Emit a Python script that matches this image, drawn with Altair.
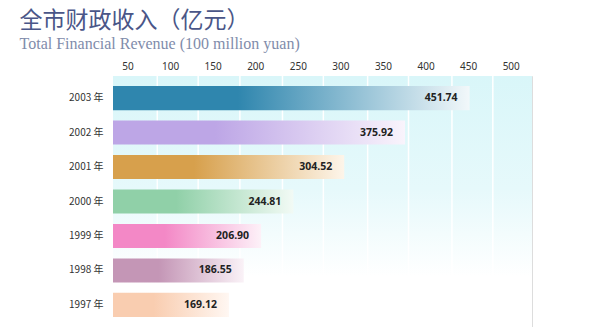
import altair as alt
import pandas as pd

years = ["2003 年", "2002 年", "2001 年", "2000 年", "1999 年", "1998 年", "1997 年"]
values = [451.74, 375.92, 304.52, 244.81, 206.90, 186.55, 169.12]
labels = ["451.74", "375.92", "304.52", "244.81", "206.90", "186.55", "169.12"]
tick_values = [50, 100, 150, 200, 250, 300, 350, 400, 450, 500]
grid_values = [85, 133, 182, 232, 280, 332, 380, 431, 479]
bar_colors = ["#2f86ae", "#bda6e6", "#d7a04c", "#90d0a8", "#f388c6", "#c496b6", "#f9cdb0"]
end_colors = ["#f2f8fa", "#f9f4fc", "#fdf5ea", "#f2faf5", "#fdf1f8", "#faf2f7", "#fff7f2"]

df = pd.DataFrame({"year": years, "value": values, "label": labels})
grid_df = pd.DataFrame({"g": grid_values})

DOMAIN = [33, 525]
W, H = 419, 251

x_scale = alt.Scale(domain=DOMAIN, zero=False, clamp=True, nice=False)
x_enc = alt.X("value:Q", scale=x_scale,
              axis=alt.Axis(orient="top", values=tick_values, title=None, ticks=False,
                            domain=False, labelPadding=5, labelFontSize=10,
                            labelColor="#333333", labelFont="Noto Sans", grid=False))
y_enc = alt.Y("year:N", sort=years,
              scale=alt.Scale(paddingInner=0.3, paddingOuter=0.29),
              axis=alt.Axis(title=None, ticks=False, domain=False, grid=False, labelPadding=10,
                            labelFontSize=10, labelColor="#333333",
                            labelFont="Noto Sans CJK SC"))

bg = alt.LinearGradient(
    gradient="linear", x1=0, x2=0, y1=0, y2=1,
    stops=[alt.GradientStop(offset=0, color="#d9f6f9"),
           alt.GradientStop(offset=0.45, color="#e6f9fb"),
           alt.GradientStop(offset=0.8, color="#ffffff"),
           alt.GradientStop(offset=1, color="#ffffff")])

background = alt.Chart(df).transform_filter(alt.datum.year == years[0]).mark_rect(
    color=bg, strokeOpacity=0).encode(x=alt.value(0), x2=alt.value(W), y=alt.value(0), y2=alt.value(H))

grid = alt.Chart(grid_df).mark_rule(color="#ffffff", strokeWidth=1.5).encode(
    x=alt.X("g:Q", scale=x_scale), y=alt.value(0), y2=alt.value(H))

layers = [background, grid]
for yr, c0, c1 in zip(years, bar_colors, end_colors):
    grad = alt.LinearGradient(
        gradient="linear", x1=0, x2=1, y1=0, y2=0,
        stops=[alt.GradientStop(offset=0, color=c0),
               alt.GradientStop(offset=0.35, color=c0),
               alt.GradientStop(offset=1, color=c1)])
    layers.append(
        alt.Chart(df).transform_filter(alt.datum.year == yr)
        .mark_bar(color=grad)
        .encode(x=x_enc, x2=alt.datum(DOMAIN[0]), y=y_enc)
    )

text = alt.Chart(df).mark_text(align="right", dx=-12, fontSize=10.5, fontWeight="bold",
                                color="#222222", font="Noto Sans").encode(
    x=alt.X("value:Q"), y=alt.Y("year:N", sort=years), text="label:N")

chart = alt.layer(*layers, text).properties(
    width=W, height=H,
    autosize=alt.AutoSizeParams(type="none"),
    padding={"left": 113, "top": 76, "right": 68, "bottom": 0},
    title=alt.TitleParams(
        text="全市财政收入（亿元）",
        subtitle="Total Financial Revenue (100 million yuan)",
        anchor="start", dx=-49, offset=9,
        font="Noto Sans CJK SC", fontSize=23, fontWeight="normal", color="#4a5688",
        subtitleFont="Liberation Serif", subtitleFontSize=16, subtitleColor="#7f8cab",
        subtitlePadding=3),
).configure_view(stroke="transparent", strokeWidth=0).configure(background="#ffffff")

chart.save("out.html", embed_options={"renderer": "svg", "actions": False})
